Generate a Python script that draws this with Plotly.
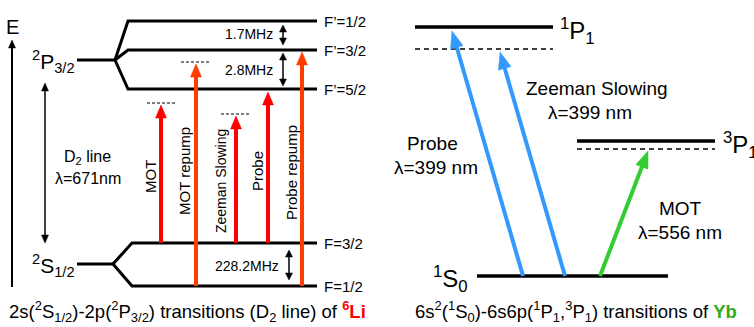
import math
import plotly.graph_objects as go

# ---------------- data ----------------
# 6Li (left panel), pixel-like energy coordinates (y grows downward)
li_fine_names = ["<sup>2</sup>P<sub>3/2</sub>", "<sup>2</sup>S<sub>1/2</sub>"]
li_fine_y = [60, 264]
li_upper_labels = ["F’=1/2", "F’=3/2", "F’=5/2"]
li_upper_y = [21, 50, 89]
li_lower_labels = ["F=3/2", "F=1/2"]
li_lower_y = [243, 286]
li_split_labels = ["1.7MHz", "2.8MHz", "228.2MHz"]
li_beam_names = ["MOT", "MOT repump", "Zeeman Slowing", "Probe", "Probe repump"]
li_beam_x = [161, 196, 236, 268, 302]
li_beam_from = [243, 286, 243, 243, 286]
li_beam_to = [105, 64, 116, 92, 52]
li_beam_colors = ["#ff0000", "#ff3d00", "#ff0000", "#ff0000", "#ff3d00"]
li_detune_y = [103, 62, 114]
li_detune_x = [147, 181, 221]

# Yb (right panel)
yb_level_names = ["<sup>1</sup>S<sub>0</sub>", "<sup>1</sup>P<sub>1</sub>", "<sup>3</sup>P<sub>1</sub>"]
yb_level_y = [276, 27, 141]
yb_level_x0 = [477, 415, 577]
yb_level_x1 = [668, 553, 715]
yb_detune_y = [49, 149]
yb_beam_names = ["Probe", "Zeeman Slowing", "MOT"]
yb_beam_wl = ["λ=399 nm", "λ=399 nm", "λ=556 nm"]
yb_beam_x0 = [523, 565, 600]
yb_beam_x1 = [452, 500, 648]
yb_beam_y1 = [31, 52, 151]
yb_beam_colors = ["#3399ff", "#3399ff", "#33cc33"]

FONT = "Liberation Sans, Arial, sans-serif"

fig = go.Figure()


def line(xs, ys, color="black", width=3, dash=None):
    fig.add_trace(go.Scatter(x=xs, y=ys, mode="lines",
                             line=dict(color=color, width=width, dash=dash),
                             hoverinfo="skip", showlegend=False))


def head(x1, y1, ux, uy, hl, hw, color):
    px, py = -uy, ux
    bx, by = x1 - ux * hl, y1 - uy * hl
    fig.add_trace(go.Scatter(
        x=[x1, bx + px * hw / 2, bx - px * hw / 2, x1],
        y=[y1, by + py * hw / 2, by - py * hw / 2, y1],
        mode="lines", fill="toself", fillcolor=color,
        line=dict(width=0.5, color=color), hoverinfo="skip", showlegend=False))


def arrow(x0, y0, x1, y1, color, w, hl, hw, both=False):
    dx, dy = x1 - x0, y1 - y0
    L = math.hypot(dx, dy)
    ux, uy = dx / L, dy / L
    sx, sy = x0, y0
    if both:
        sx, sy = x0 + ux * hl * 0.8, y0 + uy * hl * 0.8
        head(x0, y0, -ux, -uy, hl, hw, color)
    ex, ey = x1 - ux * hl * 0.8, y1 - uy * hl * 0.8
    line([sx, ex], [sy, ey], color, w)
    head(x1, y1, ux, uy, hl, hw, color)


ann = []


def text(x, y, s, size, xanchor="center", yanchor="middle", angle=0, color="black"):
    ann.append(dict(x=x, y=y, xref="x", yref="y", text=s, showarrow=False,
                    xanchor=xanchor, yanchor=yanchor, textangle=angle,
                    font=dict(family=FONT, size=size, color=color)))


# ---------------- left panel: 6Li ----------------
# energy axis
arrow(12, 287, 12, 40, "black", 2, 8, 7)
text(12, 27, "E", 20)

# fine-structure stubs and hyperfine splitting
line([77, 115], [li_fine_y[0]] * 2)
for y, lab in zip(li_upper_y, li_upper_labels):
    line([115, 128, 317], [li_fine_y[0], y, y])
    text(322, y, lab, 15, xanchor="left")
line([77, 113], [li_fine_y[1]] * 2)
for y, lab in zip(li_lower_y, li_lower_labels):
    line([113, 132, 317], [li_fine_y[1], y, y])
    text(322, y, lab, 15, xanchor="left")
text(30, li_fine_y[0] + 1, li_fine_names[0], 21, xanchor="left")
text(30, li_fine_y[1] + 1, li_fine_names[1], 21, xanchor="left")

# splitting double arrows + labels
arrow(283, li_upper_y[0] + 4, 283, li_upper_y[1] - 5, "black", 1.5, 7, 7, both=True)
arrow(283, li_upper_y[1] + 3, 283, li_upper_y[2] - 3, "black", 1.5, 7, 7, both=True)
arrow(289, li_lower_y[0] + 7, 289, li_lower_y[1] - 6, "black", 1.5, 7, 7, both=True)
text(249, 34, li_split_labels[0], 14)
text(249, 70, li_split_labels[1], 14)
text(247, 266, li_split_labels[2], 14)

# D2 line arrow
arrow(45, 83, 45, 243, "black", 1.5, 8, 7, both=True)
text(87, 157, "D<sub>2</sub> line", 16)
text(88, 178, "λ=671nm", 16)

# detuning dashes
for x, y in zip(li_detune_x, li_detune_y):
    line([x, x + 30], [y, y], "black", 1.2, "3px,2px")

# laser beams
for x, y0, y1, c in zip(li_beam_x, li_beam_from, li_beam_to, li_beam_colors):
    arrow(x, y0, x, y1, c, 4, 13, 11)
beam_lab_x = [150, 184, 221, 257, 291]
beam_lab_y = [177, 171, 181, 171, 173]
beam_lab_size = [15, 15, 14, 15, 15]
for x, y, s, n in zip(beam_lab_x, beam_lab_y, beam_lab_size, li_beam_names):
    text(x, y, n, s, angle=-90)

text(187, 311, "2s(<sup>2</sup>S<sub>1/2</sub>)-2p(<sup>2</sup>P<sub>3/2</sub>) transitions "
     "(D<sub>2</sub> line) of <b><span style='color:#ff0000'><sup>6</sup>Li</span></b>", 18.5)

# ---------------- right panel: Yb ----------------
for x0, x1, y in zip(yb_level_x0, yb_level_x1, yb_level_y):
    line([x0, x1], [y, y], "black", 3.5)
line([415, 553], [yb_detune_y[0]] * 2, "black", 1.3, "5px,4px")
line([577, 715], [yb_detune_y[1]] * 2, "black", 1.3, "5px,4px")
text(470, 279, yb_level_names[0], 24, xanchor="right")
text(558, 31, yb_level_names[1], 24, xanchor="left")
text(721, 145, yb_level_names[2], 24, xanchor="left")

for x0, x1, y1, c in zip(yb_beam_x0, yb_beam_x1, yb_beam_y1, yb_beam_colors):
    arrow(x0, yb_level_y[0], x1, y1, c, 4, 17, 13)

text(432, 143, yb_beam_names[0], 19)
text(436, 167, yb_beam_wl[0], 19)
text(597, 88, yb_beam_names[1], 19)
text(590, 112, yb_beam_wl[1], 19)
text(680, 208, yb_beam_names[2], 19)
text(680, 232, yb_beam_wl[2], 19)

text(576, 311, "6s<sup>2</sup>(<sup>1</sup>S<sub>0</sub>)-6s6p(<sup>1</sup>P<sub>1</sub>,"
     "<sup>3</sup>P<sub>1</sub>) transitions of <b><span style='color:#33aa22'>Yb</span></b>", 18.5)

fig.update_layout(
    width=754, height=327, margin=dict(l=0, r=0, t=0, b=0),
    paper_bgcolor="white", plot_bgcolor="white",
    xaxis=dict(range=[0, 754], visible=False, fixedrange=True),
    yaxis=dict(range=[327, 0], visible=False, fixedrange=True),
    annotations=ann, showlegend=False,
)
fig.write_html("out.html", config={"displayModeBar": False},
               post_script="document.body.style.margin='0px';document.body.style.overflow='hidden';")
